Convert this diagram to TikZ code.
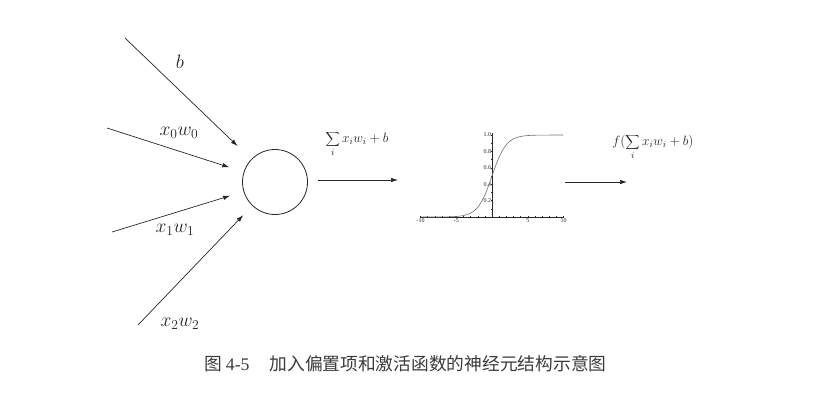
\RequirePackage{fix-cm}
\documentclass[tikz,border=0pt]{standalone}
\usepackage{fontspec}
\setmainfont{Liberation Serif}
\newfontfamily\cjk{Noto Sans CJK SC}
\usetikzlibrary{arrows.meta}
\definecolor{finkline}{HTML}{262626}
\definecolor{fcurve}{HTML}{6E6E6E}
\definecolor{fcaption}{HTML}{3A3A3A}
\tikzset{
  neuron/.style    = {draw, circle, line width=0.8bp, minimum size=65bp, inner sep=0pt},
  sig/.style       = {-{Latex[length=7bp,width=4.5bp]}, line width=0.7bp},
  inlabel/.style   = {font=\fontsize{19.5}{22}\selectfont, inner sep=0pt},
  sumlabel/.style  = {font=\fontsize{13.5}{16}\selectfont, inner sep=0pt},
  ticklabel/.style = {font=\fontsize{6}{7}\selectfont, inner sep=0.6bp},
}

\begin{document}
\begin{tikzpicture}[x=1bp,y=-1bp,finkline]
\useasboundingbox (0,0) rectangle (829,400);
% neuron with bias and weighted inputs
\node[neuron] (N) at (275,182) {};
\coordinate (inB)  at (125,38);
\coordinate (inX0) at (107,128);
\coordinate (inX1) at (112,232);
\coordinate (inX2) at (138,325);
\draw[sig,shorten >=19bp] (inB)  -- (N);
\draw[sig,shorten >=15bp] (inX0) -- (N);
\draw[sig,shorten >=14bp] (inX1) -- (N);
\draw[sig,shorten >=13bp] (inX2) -- (N);
\node[inlabel] (lB)  at (180,62)  {$b$};
\node[inlabel] (lX0) at (179,133) {$x_0w_0$};
\node[inlabel] (lX1) at (175,230) {$x_1w_1$};
\node[inlabel] (lX2) at (180,324) {$x_2w_2$};
% weighted sum into the activation
\coordinate (plotL) at (398,180);
\draw[sig,shorten <=10bp] (N.east |- plotL) -- (plotL);
\node[sumlabel] (lSum) at (357,144) {$\displaystyle\sum_i x_iw_i+b$};
% sigmoid curve
\begin{scope}[shift={(492,217)},x=7.15bp,y=82bp]
  \coordinate (O) at (0,0);
  \draw[line width=0.5bp] (-10,0) -- (10,0);
  \draw[line width=0.5bp] (O) -- (0,1.02);
  \foreach \t in {-10,...,10}
    \draw[line width=0.4bp] (\t,-0.012) -- (\t,0.012);
  \foreach \v in {0.1,0.2,...,1.0}
    \draw[line width=0.4bp] (-0.13,\v) -- (0.13,\v);
  \foreach \t in {-10,-5,5,10}
    \node[ticklabel,below] (tx\t) at (\t,-0.01) {\t};
  \foreach \v [count=\k] in {0.2,0.4,0.6,0.8,1.0}
    \node[ticklabel,left] (ty\k) at (0,\v) {\v};
  \draw[fcurve,line width=0.6bp] (-10,0) -- (-9,0.0001)
    plot[domain=-9:10,samples=115,smooth] (\x,{1/(1+exp(-\x))});
\end{scope}
% activation output
\coordinate (outS) at (565,182);
\coordinate (outE) at (627,182);
\draw[sig] (outS) -- (outE);
\node[sumlabel] (lOut) at (653,147) {$f(\displaystyle\sum_i x_iw_i+b)$};
% caption
\node[anchor=west,inner sep=0pt,fcaption,font=\fontsize{17.8}{20}\selectfont] (cap) at (204,364)
  {{\cjk 图}\hspace{4bp}4-5\hspace{20bp}{\cjk 加入偏置项和激活函数的神经元结构示意图}};
\end{tikzpicture}
\end{document}
